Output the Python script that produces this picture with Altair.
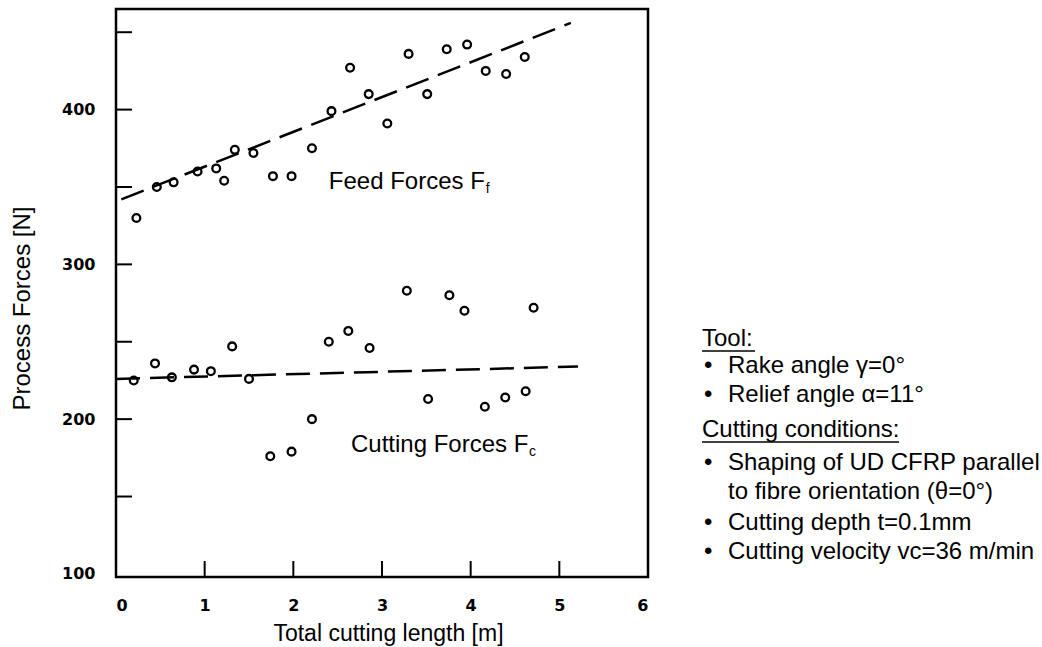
import altair as alt
import pandas as pd

# ---- data ----
feed_x = [0.23, 0.46, 0.65, 0.92, 1.13, 1.22, 1.34, 1.55, 1.77, 1.98, 2.21,
          2.43, 2.64, 2.85, 3.06, 3.30, 3.51, 3.73, 3.96, 4.17, 4.40, 4.61]
feed_y = [330, 350, 353, 360, 362, 354, 374, 372, 357, 357, 375,
          399, 427, 410, 391, 436, 410, 439, 442, 425, 423, 434]
cut_x = [0.20, 0.44, 0.63, 0.88, 1.07, 1.31, 1.50, 1.74, 1.98, 2.21, 2.40,
         2.62, 2.86, 3.28, 3.52, 3.76, 3.93, 4.16, 4.39, 4.62, 4.71]
cut_y = [225, 236, 227, 232, 231, 247, 226, 176, 179, 200, 250,
         257, 246, 283, 213, 280, 270, 208, 214, 218, 272]
feed_fit_x = [0.06, 5.13]
feed_fit_y = [342, 456]
cut_fit_x = [0.0, 5.21]
cut_fit_y = [226, 234]
x_tick_labels = [0, 1, 2, 3, 4, 5, 6]
x_minor_ticks = [1, 2, 3, 4, 5]
y_tick_labels = [100, 200, 300, 400]
y_minor_ticks = [150, 200, 250, 300, 350, 400, 450]
info_lines = [
    ("Tool:", "head"),
    ("Rake angle γ=0°", "bullet"),
    ("Relief angle α=11°", "bullet"),
    ("Cutting conditions:", "head"),
    ("Shaping of UD CFRP parallel", "bullet"),
    ("to fibre orientation (θ=0°)", "cont"),
    ("Cutting depth t=0.1mm", "bullet"),
    ("Cutting velocity vc=36 m/min", "bullet"),
]

# ---- layout constants ----
W, H = 532, 568
PADL, PADT = 116, 9
FONT = "Liberation Sans"
LBLFONT = "DejaVu Sans"

xs = alt.Scale(domain=[0, 6], nice=False, zero=False)
ys = alt.Scale(domain=[98, 465], nice=False, zero=False)

pts = pd.DataFrame({
    "x": feed_x + cut_x,
    "y": feed_y + cut_y,
    "s": ["feed"] * len(feed_x) + ["cut"] * len(cut_x),
})

xaxis = alt.Axis(values=x_tick_labels, ticks=False, domain=False, grid=False,
                 labelFont=LBLFONT, labelFontWeight="bold", labelFontSize=16,
                 labelColor="black", labelPadding=20, format="d",
                 title="Total cutting length [m]", titleFont=FONT,
                 titleFontSize=23, titleFontWeight="normal", titleColor="black",
                 titleX=272, titleY=56, titleAlign="center", titleBaseline="middle")
yaxis = alt.Axis(values=y_tick_labels, ticks=False, domain=False, grid=False,
                 labelFont=LBLFONT, labelFontWeight="bold", labelFontSize=16,
                 labelColor="black", labelPadding=21, format="d",
                 title="Process Forces [N]", titleFont=FONT, titleFontSize=24,
                 titleFontWeight="normal", titleColor="black",
                 titleX=-94, titleY=299, titleAngle=270,
                 titleAlign="center", titleBaseline="middle")

points = alt.Chart(pts).mark_point(shape="circle", filled=False, size=60,
                                   strokeWidth=2.3, color="black", opacity=1).encode(
    x=alt.X("x:Q", scale=xs, axis=xaxis),
    y=alt.Y("y:Q", scale=ys, axis=yaxis),
    detail="s:N",
)

def fit_line(xv, yv):
    d = pd.DataFrame({"x": xv, "y": yv})
    return alt.Chart(d).mark_line(color="black", strokeWidth=2.5,
                                  strokeDash=[24, 10]).encode(
        x=alt.X("x:Q", scale=xs), y=alt.Y("y:Q", scale=ys))

ytick = alt.Chart(pd.DataFrame({"v": y_minor_ticks})).mark_rule(
    color="black", strokeWidth=2).encode(
    y=alt.Y("v:Q", scale=ys), x=alt.value(0), x2=alt.value(16))
xtick = alt.Chart(pd.DataFrame({"v": x_minor_ticks})).mark_rule(
    color="black", strokeWidth=2).encode(
    x=alt.X("v:Q", scale=xs), y=alt.value(H), y2=alt.value(H - 16))

one = pd.DataFrame({"k": [0]})

def label(txt, xv, yv, size=24, dx=0, dy=0):
    return alt.Chart(one).mark_text(text=txt, align="left", baseline="middle",
                                    font=FONT, fontSize=size, color="black",
                                    dx=dx, dy=dy).encode(
        x=alt.datum(xv, scale=xs), y=alt.datum(yv, scale=ys))

annots = [
    label("Feed Forces F", 2.40, 353),
    label("f", 2.40, 353, size=14, dx=157, dy=7),
    label("Cutting Forces F", 2.65, 183),
    label("c", 2.65, 183, size=14, dx=178, dy=7),
]

# right-hand info block (pixel layout)
INFO_SIZE = 24
info = []
ypix = [339, 366, 395, 430, 463, 492, 523, 552]
ul_len = {"Tool:": 53, "Cutting conditions:": 197}
for (txt, kind), yp in zip(info_lines, ypix):
    xp = 702 if kind == "head" else 728
    info.append(alt.Chart(one).mark_text(text=txt, align="left", baseline="middle",
                                         font=FONT, fontSize=INFO_SIZE, color="black").encode(
        x=alt.value(xp - PADL), y=alt.value(yp - PADT)))
    if kind == "bullet":
        info.append(alt.Chart(one).mark_text(text="•", align="left", baseline="middle",
                                             font=FONT, fontSize=INFO_SIZE, color="black").encode(
            x=alt.value(704 - PADL), y=alt.value(yp - PADT)))
    if kind == "head":
        info.append(alt.Chart(one).mark_rule(color="black", strokeWidth=1.5).encode(
            x=alt.value(xp - PADL), x2=alt.value(xp - PADL + ul_len[txt]),
            y=alt.value(yp - PADT + 12)))

chart = alt.layer(
    points, fit_line(feed_fit_x, feed_fit_y), fit_line(cut_fit_x, cut_fit_y),
    ytick, xtick, *annots, *info
).properties(
    width=W, height=H, background="white",
    padding={"left": PADL, "top": PADT, "right": 1042 - PADL - W, "bottom": 647 - PADT - H},
    autosize=alt.AutoSizeParams(type="none"),
).configure_view(stroke="black", strokeWidth=2.5)

chart.save("out.html", embed_options={"renderer": "svg", "actions": False})
